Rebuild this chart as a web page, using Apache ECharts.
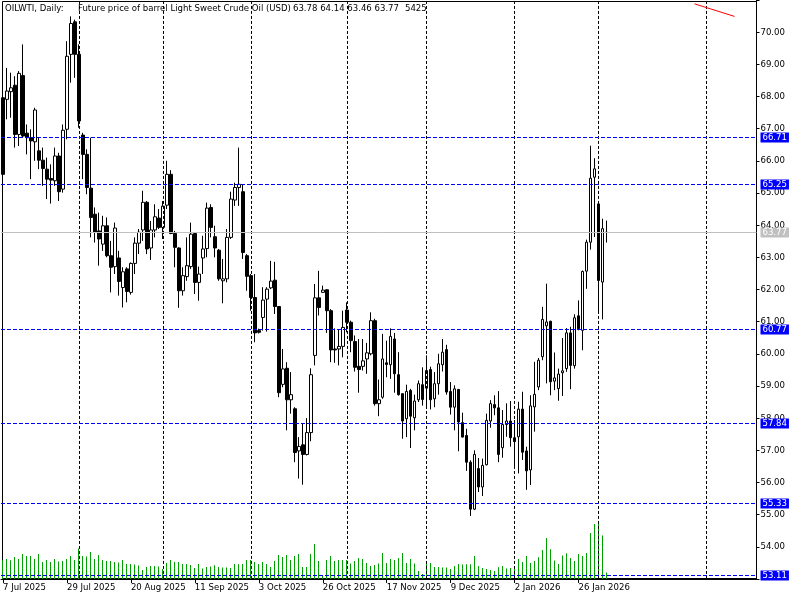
<!DOCTYPE html>
<html><head><meta charset="utf-8">
<script src="https://cdn.jsdelivr.net/npm/echarts@6/dist/echarts.min.js"></script>
<style>html,body{margin:0;padding:0;background:#fff}#c{width:800px;height:600px}</style>
</head><body><div id="c"></div>
<script>
// ---- data ----
const symbolName = 'OILWTI, Daily:';
const description = 'Future price of barrel Light Sweet Crude Oil (USD)';
const startDate = '2025-07-07';
const extraDays = ['2025-10-26'];
const skipDays = ['2025-12-25', '2026-01-01'];
const futureSlots = 37;

const openP = [67.96,67.91,68.15,68.35,66.82,68.65,66.86,66.72,66.59,66.31,
 66.02,65.74,65.45,65.38,66.15,65.12,66.98,69.31,70.32,69.31,
 66.80,66.20,65.15,64.34,63.82,63.41,63.98,63.05,62.71,62.98,
 62.06,62.64,61.91,62.81,63.44,63.85,64.71,63.29,63.85,64.22,
 63.93,64.62,65.58,63.74,63.29,61.96,62.40,62.71,63.74,62.22,
 62.98,63.27,64.55,63.64,63.22,62.27,62.33,63.62,64.78,65.17,
 65.04,63.05,62.43,61.75,60.72,61.13,61.70,62.05,62.29,61.47,
 59.05,59.55,58.57,58.29,56.98,57.17,56.87,57.55,59.95,61.74,
 61.91,61.99,61.34,60.15,60.15,60.23,61.36,60.98,60.38,59.61,
 59.61,59.84,60.00,61.03,58.45,58.65,59.72,59.66,60.46,59.35,
 58.76,57.98,58.86,58.01,58.57,59.04,58.93,59.51,58.60,59.07,
 59.66,60.13,58.83,58.34,58.89,57.86,57.46,56.63,55.17,56.43,
 55.86,56.55,57.91,58.42,58.32,57.08,57.80,57.91,57.39,57.42,
 58.28,56.98,56.39,58.35,58.97,59.91,60.87,61.01,59.15,58.92,
 59.41,59.54,60.65,59.63,61.18,60.73,62.57,63.47,65.49,64.66,
 62.23,63.78];
const closeP = [65.58,68.17,68.27,66.82,68.72,66.77,66.72,66.62,67.58,66.02,
 65.76,65.43,65.40,66.15,65.04,66.95,69.25,70.27,69.31,67.24,
 66.20,65.17,64.24,63.77,63.57,63.98,63.05,62.69,63.91,62.25,
 62.55,61.94,62.81,63.44,63.78,64.71,63.26,63.85,64.26,63.93,
 64.59,65.58,63.74,63.31,61.96,62.43,62.74,63.72,62.22,62.48,
 63.26,64.53,63.93,63.29,62.33,62.33,63.62,64.81,65.17,65.27,
 63.15,62.41,61.75,60.65,60.67,61.67,62.01,62.26,61.47,58.79,
 59.53,58.57,58.73,56.93,57.12,56.87,57.55,59.35,61.74,61.44,
 61.98,61.34,60.12,60.12,60.23,60.82,60.98,60.41,59.58,59.51,
 59.78,60.03,61.03,58.45,58.57,59.84,59.67,60.54,59.38,58.73,
 57.91,58.83,58.06,58.53,59.07,58.58,59.48,58.57,59.07,59.69,
 60.05,58.81,58.34,58.91,57.88,57.41,56.63,55.17,56.87,55.86,
 56.53,57.93,58.45,58.32,56.87,57.80,57.91,57.39,57.27,58.28,
 56.94,56.36,58.38,58.74,59.80,61.07,60.99,59.13,59.25,59.37,
 59.47,60.65,59.64,61.12,60.78,62.56,63.47,65.46,65.75,62.28,
 63.89,63.77];
const highP = [68.01,68.89,68.74,68.63,68.79,69.62,67.13,66.98,67.65,66.72,
 66.41,66.10,65.89,66.41,66.25,67.13,69.72,70.49,70.39,69.62,
 66.87,66.36,66.72,64.55,64.39,64.29,64.24,63.51,64.08,63.20,
 62.69,62.69,62.84,63.62,63.88,65.07,64.75,64.13,64.65,64.50,
 64.75,66.00,65.71,63.82,63.31,62.69,63.62,64.08,63.77,62.71,
 63.67,64.70,64.65,63.98,63.26,62.95,63.88,65.04,65.32,66.41,
 65.27,63.10,62.48,62.48,60.78,62.07,62.07,62.89,62.86,61.47,
 60.15,59.74,59.43,58.34,57.41,57.83,58.00,59.55,62.17,62.58,
 62.12,62.01,61.39,60.79,60.77,61.34,61.60,61.03,60.57,60.46,
 60.46,60.34,61.29,61.09,59.20,60.62,60.41,60.79,60.65,60.05,
 58.77,59.04,58.91,58.73,59.17,59.58,59.95,59.60,59.43,60.00,
 60.46,60.28,59.12,59.02,58.91,58.17,57.67,56.69,57.00,56.76,
 56.74,58.14,58.56,58.71,58.84,58.25,58.46,58.53,57.94,58.51,
 58.82,57.11,58.71,59.75,59.87,61.46,62.18,61.03,60.04,59.54,
 60.49,60.80,60.84,61.23,61.66,62.59,63.55,66.47,66.08,64.66,
 64.20,64.14];
const lowP = [65.53,67.29,67.34,66.41,66.46,66.72,66.20,65.43,66.00,65.74,
 65.22,64.81,64.67,65.22,64.75,65.01,66.67,68.43,68.58,67.03,
 65.43,64.96,63.62,63.46,62.74,63.20,63.00,61.91,62.48,61.81,
 61.44,61.60,61.84,62.48,63.10,63.51,63.10,62.92,63.62,63.88,
 63.57,64.50,63.72,62.69,61.43,61.81,62.27,62.64,61.86,61.65,
 62.48,63.00,63.62,63.00,62.27,61.57,62.22,63.57,64.60,64.60,
 62.95,61.96,61.34,60.36,60.63,60.72,60.69,62.01,61.24,58.65,
 58.96,57.62,58.14,56.63,56.12,55.93,56.84,57.28,59.64,61.19,
 61.89,60.65,59.74,59.72,59.64,59.89,60.67,60.05,59.45,58.79,
 59.48,59.38,59.95,58.39,58.06,58.60,59.27,59.22,58.79,58.70,
 57.36,57.41,57.07,57.62,58.50,58.39,58.29,58.27,58.34,58.73,
 59.45,58.73,58.11,57.62,56.97,57.40,56.36,54.96,55.14,55.70,
 55.58,56.53,57.70,58.09,56.63,56.77,57.42,57.11,56.49,56.28,
 56.70,55.77,55.92,57.58,58.87,59.80,59.08,58.71,58.87,58.54,
 58.69,59.44,58.90,59.54,60.73,60.11,62.02,63.24,63.63,61.32,
 61.07,63.46];
const volumes = [16000,17160,16016,18876,17160,21450,19734,19734,17160,21450,
 14586,16302,14586,17160,14872,15444,17160,19734,16302,26026,
 19734,19162,23166,17160,20592,16302,15444,15444,14586,14014,
 16302,12870,12870,12298,11440,7722,10296,11154,11154,10582,
 8580,13728,16302,14586,14586,12870,12870,12012,9438,12870,
 8866,10296,10582,11726,10296,9724,9724,9438,12870,12584,
 12870,16302,16302,14586,12870,14586,12870,10296,15444,20592,
 18876,20592,16302,19734,21450,10296,10296,21450,30030,15444,
 2500,16302,19734,15444,16302,16302,16302,13156,15444,18018,
 17160,13728,11154,12012,13156,22308,13728,17160,16302,18018,
 22308,13728,17160,13156,6864,4290,13156,13728,10296,10296,
 9724,9724,8580,11154,12870,12298,12584,12584,19734,11154,
 9438,8580,7722,6864,10010,11154,8866,9438,11154,17160,
 14586,19734,13728,15444,18590,24882,35178,25454,15730,12870,
 20020,22022,18018,15444,21450,19734,22308,39468,47190,48906,
 37180,5425];
const levelLines = [66.71, 65.25, 60.77, 57.84, 55.33, 53.11];
const currentPrice = 63.77;
const separatorIdx = [19, 40, 62, 86, 106, 128, 149, 176];
const trendStart = [172.6, 70.88];
const trendEnd = [182.6, 70.49];
const labelEvery = 16;

// ---- categories (trading calendar) ----
const MON = ['Jan','Feb','Mar','Apr','May','Jun','Jul','Aug','Sep','Oct','Nov','Dec'];
const N = openP.length;
const cats = [];
{
  let d = new Date(startDate + 'T00:00:00Z');
  while (cats.length < N) {
    const iso = d.toISOString().slice(0, 10);
    const wd = d.getUTCDay();
    if ((wd !== 0 && wd !== 6 && !skipDays.includes(iso)) || extraDays.includes(iso)) {
      cats.push(d.getUTCDate() + ' ' + MON[d.getUTCMonth()] + ' ' + d.getUTCFullYear());
    }
    d = new Date(d.getTime() + 86400000);
  }
  for (let i = 0; i < futureSlots; i++) cats.push('F' + i);
}
const TOTAL = cats.length;
const candleData = openP.map((o, i) => [o, closeP[i], lowP[i], highP[i]]);

// ---- layout ----
const SLOT = 4;
const GL = 0.5, GW = TOTAL * SLOT;
const PXPER = 32.23;
const YMIN = 53, YMAX = 71;
const GTOP = -1.2, GH = (YMAX - YMIN) * PXPER;
const VOLH = 200, VOLPX = 857; // volume units per pixel
const FONT = '"DejaVu Sans Condensed", "DejaVu Sans", sans-serif';
const FSIZE = 9.5;
const TFONT = FSIZE + 'px ' + FONT;
const BLUE = '#0000ff';
const GRAY = '#c0c0c0';

const showIdx = (idx) => idx % labelEvery === 0 && idx < N;

// horizontal price lines (crisp, with a price box on the right of the plot)
const levelRender = (color, dash) => (params, api) => {
  const v = api.value(0);
  const cs = params.coordSys;
  const y = Math.floor(api.coord([0, v])[1]) + 0.5;
  return {
    type: 'group',
    children: [
      {type: 'line', shape: {x1: cs.x, y1: y, x2: cs.x + cs.width, y2: y},
       style: {stroke: color, lineWidth: 1, lineDash: dash}},
      {type: 'text', x: cs.x + cs.width + 4, y: y,
       style: {text: v.toFixed(2), fill: '#fff', backgroundColor: color,
         padding: [0, 2, 0, 2], font: TFONT, verticalAlign: 'middle', align: 'left', lineHeight: 10}}
    ]
  };
};

const last = N - 1;
const titleVals = [openP[last], highP[last], lowP[last], closeP[last]].map(v => v.toFixed(2)).join(' ');

const chart = echarts.init(document.getElementById('c'), null, {renderer: 'canvas'});
chart.setOption({
  animation: false,
  backgroundColor: '#fff',
  grid: [
    {left: GL, top: GTOP, width: GW, height: GH},
    {left: GL, top: GTOP + GH - VOLH, width: GW, height: VOLH}
  ],
  xAxis: [
    {type: 'category', gridIndex: 0, data: cats, boundaryGap: true,
     axisLine: {show: true, lineStyle: {color: '#000', width: 1}},
     axisTick: {show: true, alignWithLabel: true, interval: showIdx, length: 4, lineStyle: {color: '#000'}},
     axisLabel: {interval: showIdx, align: 'left', margin: 4, color: '#000', fontSize: FSIZE, fontFamily: FONT,
       formatter: (v) => v.charAt(0) === 'F' ? '' : v},
     splitLine: {show: false}},
    {type: 'category', gridIndex: 1, data: cats, boundaryGap: true, show: false}
  ],
  yAxis: [
    {type: 'value', gridIndex: 0, position: 'right', min: YMIN, max: YMAX, interval: 1,
     axisLine: {show: true, lineStyle: {color: '#000', width: 1}},
     axisTick: {show: true, length: 3, lineStyle: {color: '#000'}},
     axisLabel: {margin: 4, color: '#000', fontSize: FSIZE, fontFamily: FONT,
       formatter: (v) => (v <= YMIN || v >= YMAX) ? '' : v.toFixed(2)},
     splitLine: {show: false}},
    {type: 'value', gridIndex: 1, min: 0, max: VOLH * VOLPX, show: false}
  ],
  graphic: [
    {type: 'rect', z: 0, shape: {x: 2.5, y: 1.5, width: 754, height: 577}, style: {fill: null, stroke: '#000', lineWidth: 1}},
    {type: 'text', z: 1, x: 5, y: 3.5, style: {text: symbolName, font: TFONT, fill: '#000'}},
    {type: 'text', z: 1, x: 78, y: 3.5, style: {text: description, font: TFONT, fill: '#000'}},
    {type: 'text', z: 1, x: 293, y: 3.5, style: {text: titleVals, font: TFONT, fill: '#000'}},
    {type: 'text', z: 1, x: 405, y: 3.5, style: {text: String(volumes[last]), font: TFONT, fill: '#000'}}
  ],
  series: [
    {type: 'bar', name: 'Volume', xAxisIndex: 1, yAxisIndex: 1, data: volumes, barWidth: 1,
     itemStyle: {color: '#00a000'}, silent: true, z: 1},
    {type: 'candlestick', name: 'OILWTI', xAxisIndex: 0, yAxisIndex: 0, data: candleData, barWidth: 3,
     itemStyle: {color: '#fff', color0: '#000', borderColor: '#000', borderColor0: '#000', borderWidth: 1},
     silent: true, z: 3},
    {type: 'line', name: 'separators', xAxisIndex: 0, yAxisIndex: 0, data: [], silent: true, z: 4,
     markLine: {symbol: ['none', 'none'], silent: true, animation: false, z: 4,
       lineStyle: {color: '#000000', type: [3, 2], width: 1}, label: {show: false},
       data: separatorIdx.map(ix => ({xAxis: ix}))}},
    {type: 'line', name: 'trend', xAxisIndex: 0, yAxisIndex: 0, data: [], silent: true, z: 5,
     markLine: {symbol: ['none', 'none'], silent: true, animation: false, z: 5,
       lineStyle: {color: '#ff0000', type: 'solid', width: 1}, label: {show: false},
       data: [[{coord: trendStart}, {coord: trendEnd}]]}},
    {type: 'custom', name: 'current', xAxisIndex: 0, yAxisIndex: 0, silent: true, z: 5, clip: false,
     data: [[currentPrice]], encode: {y: 0}, renderItem: levelRender(GRAY, null)},
    {type: 'custom', name: 'levels', xAxisIndex: 0, yAxisIndex: 0, silent: true, z: 6, clip: false,
     data: levelLines.map(v => [v]), encode: {y: 0}, renderItem: levelRender(BLUE, [4, 2])}
  ]
});
</script></body></html>
